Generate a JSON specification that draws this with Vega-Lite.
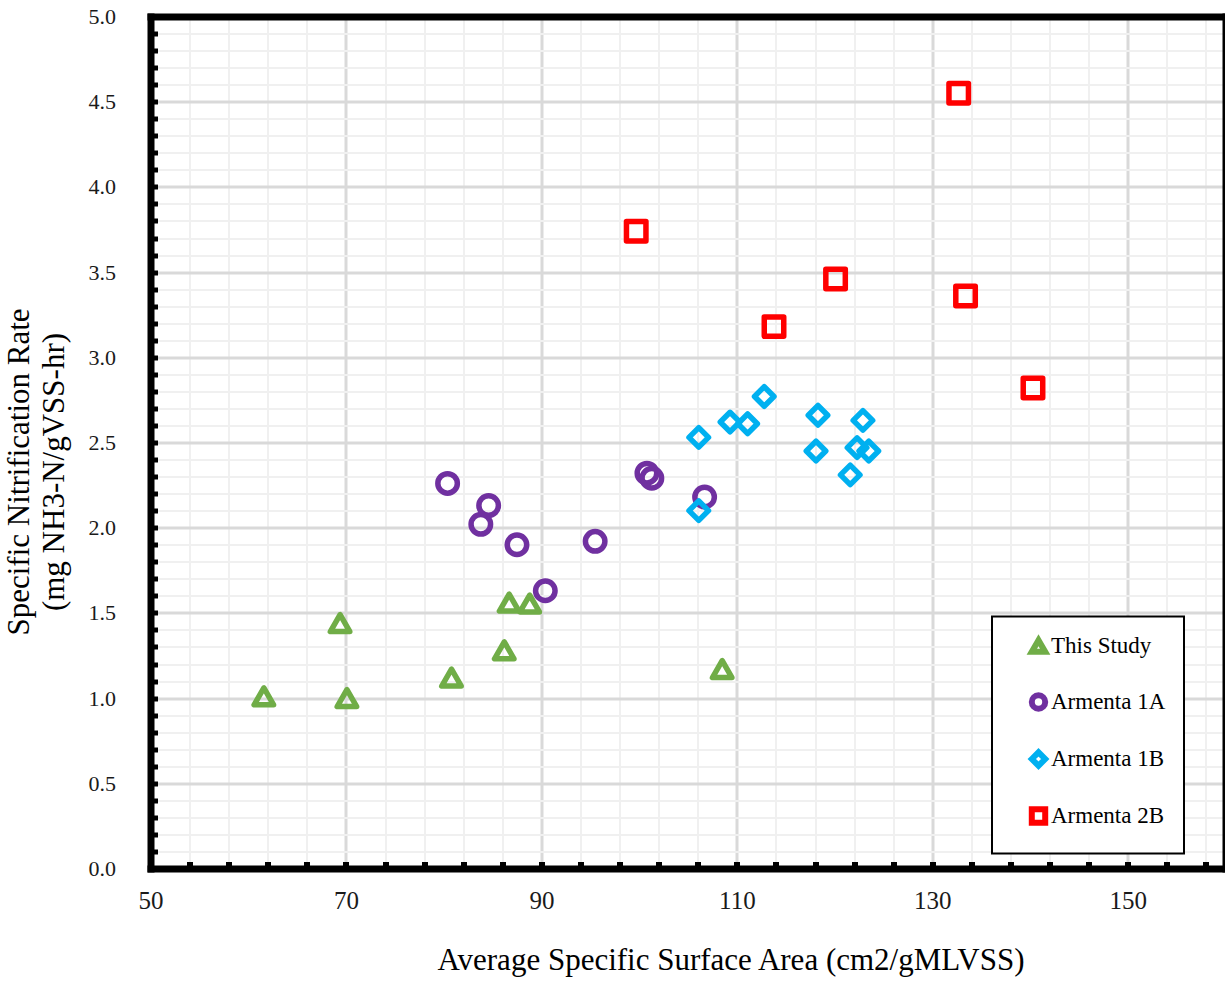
{
  "$schema": "https://vega.github.io/schema/vega-lite/v6.json",
  "width": 1075,
  "height": 852,
  "autosize": {"type": "none"},
  "padding": {"left": 150.5, "top": 16.5, "right": 0, "bottom": 112.5},
  "background": "white",
  "config": {
    "view": {"stroke": null, "fill": "white"},
    "font": "Liberation Serif",
    "legend": {"strokeWidth": 2}
  },
  "data": {
    "values": [
      {"series": "This Study", "ssa": 61.6, "snr": 1.01},
      {"series": "This Study", "ssa": 69.4, "snr": 1.44},
      {"series": "This Study", "ssa": 70.1, "snr": 1.0},
      {"series": "This Study", "ssa": 80.8, "snr": 1.12},
      {"series": "This Study", "ssa": 86.2, "snr": 1.28},
      {"series": "This Study", "ssa": 86.7, "snr": 1.56},
      {"series": "This Study", "ssa": 88.8, "snr": 1.555},
      {"series": "This Study", "ssa": 108.5, "snr": 1.17},
      {"series": "Armenta 1A", "ssa": 80.4, "snr": 2.26},
      {"series": "Armenta 1A", "ssa": 83.8, "snr": 2.02},
      {"series": "Armenta 1A", "ssa": 84.6, "snr": 2.13},
      {"series": "Armenta 1A", "ssa": 87.5, "snr": 1.9},
      {"series": "Armenta 1A", "ssa": 90.4, "snr": 1.63},
      {"series": "Armenta 1A", "ssa": 95.5, "snr": 1.92},
      {"series": "Armenta 1A", "ssa": 100.8, "snr": 2.32},
      {"series": "Armenta 1A", "ssa": 101.3, "snr": 2.29},
      {"series": "Armenta 1A", "ssa": 106.7, "snr": 2.18},
      {"series": "Armenta 1B", "ssa": 106.1, "snr": 2.53},
      {"series": "Armenta 1B", "ssa": 106.1, "snr": 2.1},
      {"series": "Armenta 1B", "ssa": 109.3, "snr": 2.62},
      {"series": "Armenta 1B", "ssa": 111.1, "snr": 2.61},
      {"series": "Armenta 1B", "ssa": 112.8, "snr": 2.77},
      {"series": "Armenta 1B", "ssa": 118.3, "snr": 2.66},
      {"series": "Armenta 1B", "ssa": 118.1, "snr": 2.45},
      {"series": "Armenta 1B", "ssa": 122.9, "snr": 2.63},
      {"series": "Armenta 1B", "ssa": 121.6, "snr": 2.31},
      {"series": "Armenta 1B", "ssa": 122.3, "snr": 2.47},
      {"series": "Armenta 1B", "ssa": 123.5, "snr": 2.45},
      {"series": "Armenta 2B", "ssa": 99.7, "snr": 3.74},
      {"series": "Armenta 2B", "ssa": 113.8, "snr": 3.18},
      {"series": "Armenta 2B", "ssa": 120.1, "snr": 3.46},
      {"series": "Armenta 2B", "ssa": 132.7, "snr": 4.55},
      {"series": "Armenta 2B", "ssa": 133.4, "snr": 3.36},
      {"series": "Armenta 2B", "ssa": 140.3, "snr": 2.82}
    ]
  },
  "layer": [
    {
      "mark": {"type": "point", "filled": false, "strokeWidth": 5.5, "opacity": 1, "strokeJoin": "round", "size": 380},
      "encoding": {
        "x": {
          "field": "ssa",
          "type": "quantitative",
          "scale": {"domain": [50, 160], "nice": false, "zero": false},
          "axis": {
            "values": [50, 54, 58, 62, 66, 70, 74, 78, 82, 86, 90, 94, 98, 102, 106, 110, 114, 118, 122, 126, 130, 134, 138, 142, 146, 150, 154, 158],
            "labelExpr": "(datum.value - 50) % 20 === 0 ? datum.label : ''",
            "labelFont": "Liberation Serif",
            "labelFontSize": 25,
            "labelColor": "#1a1a1a",
            "labelPadding": 27,
            "labelFlush": false,
            "labelOverlap": false,
            "domain": true,
            "domainColor": "black",
            "domainWidth": 7,
            "domainCap": "square",
            "ticks": true,
            "tickColor": "black",
            "tickWidth": 6,
            "tickSize": -7,
            "grid": true,
            "gridColor": {"condition": {"test": "(datum.value - 50) % 20 === 0", "value": "#d9d9d9"}, "value": "#f0f0f0"},
            "gridWidth": {"condition": {"test": "(datum.value - 50) % 20 === 0", "value": 3}, "value": 2},
            "title": "Average Specific Surface Area (cm2/gMLVSS)",
            "titleFont": "Liberation Serif",
            "titleFontSize": 31,
            "titleFontWeight": "normal",
            "titleColor": "black",
            "titleX": 580,
            "titleY": 92,
            "titleAlign": "center",
            "titleBaseline": "middle",
            "titleAnchor": null
          }
        },
        "y": {
          "field": "snr",
          "type": "quantitative",
          "scale": {"domain": [0, 5], "nice": false},
          "axis": {
            "values": [0, 0.1, 0.2, 0.3, 0.4, 0.5, 0.6, 0.7, 0.8, 0.9, 1, 1.1, 1.2, 1.3, 1.4, 1.5, 1.6, 1.7, 1.8, 1.9, 2, 2.1, 2.2, 2.3, 2.4, 2.5, 2.6, 2.7, 2.8, 2.9, 3, 3.1, 3.2, 3.3, 3.4, 3.5, 3.6, 3.7, 3.8, 3.9, 4, 4.1, 4.2, 4.3, 4.4, 4.5, 4.6, 4.7, 4.8, 4.9, 5],
            "labelExpr": "round(datum.value * 10) % 5 === 0 ? format(datum.value, '.1f') : ''",
            "labelFont": "Liberation Serif",
            "labelFontSize": 22,
            "labelColor": "#1a1a1a",
            "labelPadding": 42,
            "labelOverlap": false,
            "labelFlush": false,
            "domain": true,
            "domainColor": "black",
            "domainWidth": 7,
            "domainCap": "square",
            "ticks": true,
            "tickColor": "black",
            "tickWidth": 5,
            "tickSize": -7,
            "grid": true,
            "gridColor": {"condition": {"test": "round(datum.value * 10) % 5 === 0", "value": "#d9d9d9"}, "value": "#f0f0f0"},
            "gridWidth": {"condition": {"test": "round(datum.value * 10) % 5 === 0", "value": 3}, "value": 2},
            "title": ["Specific Nitrification Rate", "(mg NH3-N/gVSS-hr)"],
            "titleFont": "Liberation Serif",
            "titleFontSize": 31,
            "titleFontWeight": "normal",
            "titleColor": "black",
            "titleAngle": -90,
            "titleX": -122,
            "titleY": 455,
            "titleAlign": "center",
            "titleBaseline": "alphabetic",
            "titleLineHeight": 35,
            "titleAnchor": null
          }
        },
        "color": {
          "field": "series",
          "type": "nominal",
          "scale": {"domain": ["This Study", "Armenta 1A", "Armenta 1B", "Armenta 2B"], "range": ["#70ad47", "#7030a0", "#00b0f0", "#ff0000"]},
          "legend": {
            "orient": "none",
            "legendX": 841.5,
            "legendY": 600,
            "title": null,
            "padding": 18,
            "strokeColor": "black",
            "fillColor": "white",
            "symbolSize": 180,
            "symbolStrokeWidth": 6,
            "symbolOffset": 17,
            "labelFont": "Liberation Serif",
            "labelFontSize": 23,
            "labelColor": "black",
            "labelOffset": 1,
            "rowPadding": 18
          }
        },
        "shape": {
          "field": "series",
          "type": "nominal",
          "scale": {"domain": ["This Study", "Armenta 1A", "Armenta 1B", "Armenta 2B"], "range": ["triangle-up", "circle", "diamond", "square"]}
        }
      }
    },
    {
      "mark": {"type": "point", "opacity": 0},
      "encoding": {
        "x": {
          "field": "ssa",
          "type": "quantitative",
          "scale": {"domain": [50, 160], "nice": false, "zero": false},
          "axis": {"orient": "top", "labels": false, "ticks": false, "grid": false, "title": null, "domain": true, "domainColor": "black", "domainWidth": 7, "domainCap": "square"}
        },
        "y": {
          "field": "snr",
          "type": "quantitative",
          "scale": {"domain": [0, 5], "nice": false},
          "axis": {"orient": "right", "labels": false, "ticks": false, "grid": false, "title": null, "domain": true, "domainColor": "black", "domainWidth": 7, "domainCap": "square"}
        }
      }
    }
  ],
  "resolve": {"axis": {"x": "independent", "y": "independent"}}
}
